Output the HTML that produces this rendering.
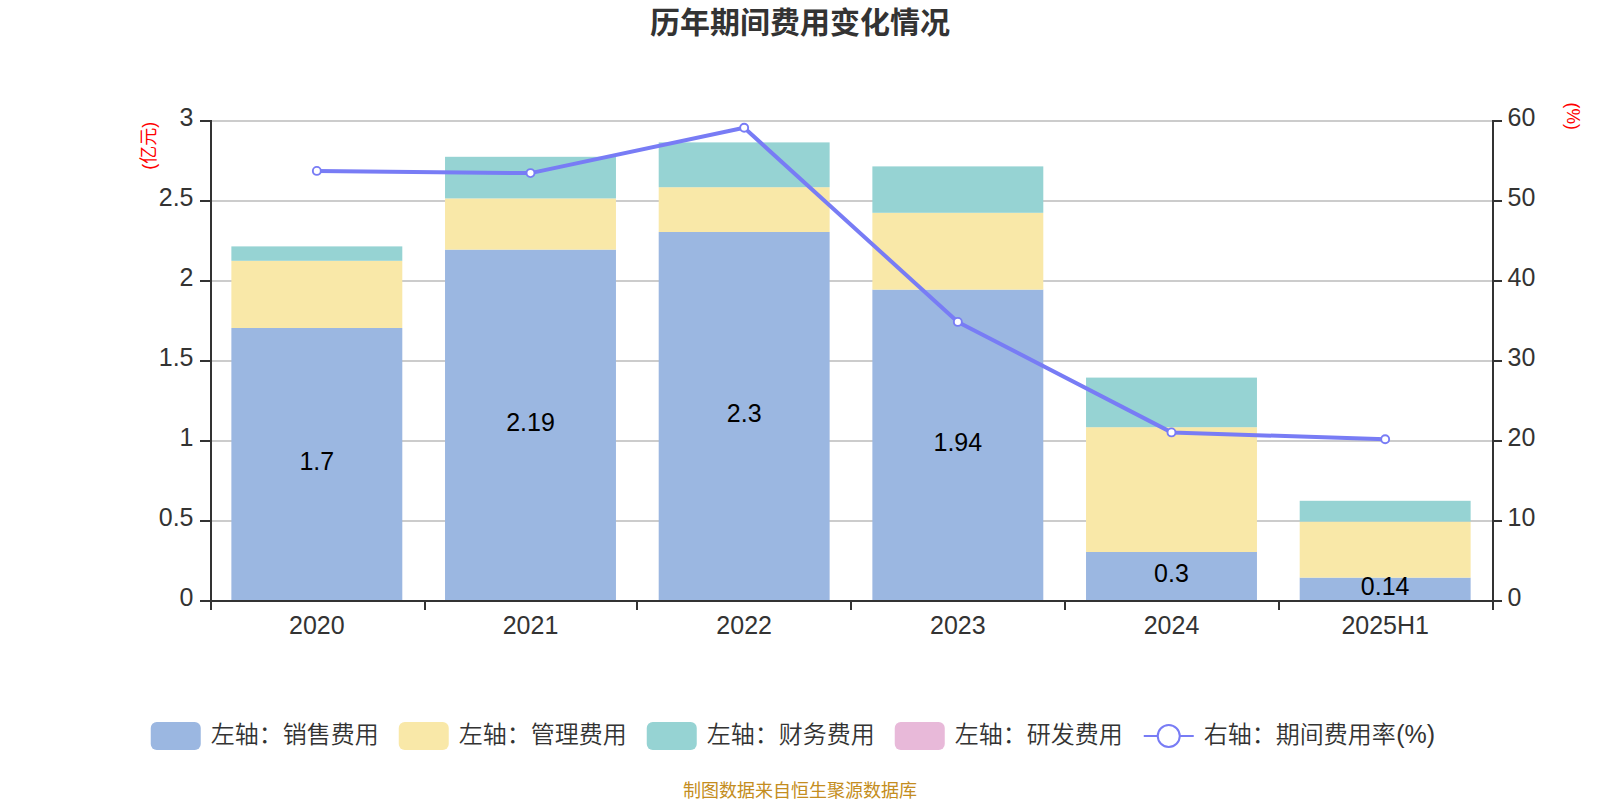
<!DOCTYPE html>
<html lang="zh-CN"><head><meta charset="utf-8"><title>历年期间费用变化情况</title>
<style>html,body{margin:0;padding:0;background:#fff;}body{width:1600px;height:800px;overflow:hidden;}svg{display:block;}text{font-family:"Liberation Sans", "Noto Sans CJK SC", sans-serif;}</style></head><body>
<svg width="1600" height="800" viewBox="0 0 1600 800">
<rect width="1600" height="800" fill="#fff"/>
<text x="800" y="33" text-anchor="middle" font-size="30" font-weight="bold" fill="#333">历年期间费用变化情况</text>
<line x1="210" y1="521" x2="1493" y2="521" stroke="#ccc" stroke-width="2"/>
<line x1="210" y1="441" x2="1493" y2="441" stroke="#ccc" stroke-width="2"/>
<line x1="210" y1="361" x2="1493" y2="361" stroke="#ccc" stroke-width="2"/>
<line x1="210" y1="281" x2="1493" y2="281" stroke="#ccc" stroke-width="2"/>
<line x1="210" y1="201" x2="1493" y2="201" stroke="#ccc" stroke-width="2"/>
<line x1="210" y1="121" x2="1493" y2="121" stroke="#ccc" stroke-width="2"/>
<rect x="231.37" y="328.00" width="170.93" height="272.00" fill="#9bb7e1"/>
<rect x="231.37" y="260.80" width="170.93" height="67.20" fill="#f9e8a8"/>
<rect x="231.37" y="246.40" width="170.93" height="14.40" fill="#96d3d3"/>
<rect x="445.03" y="249.60" width="170.93" height="350.40" fill="#9bb7e1"/>
<rect x="445.03" y="198.40" width="170.93" height="51.20" fill="#f9e8a8"/>
<rect x="445.03" y="156.80" width="170.93" height="41.60" fill="#96d3d3"/>
<rect x="658.70" y="232.00" width="170.93" height="368.00" fill="#9bb7e1"/>
<rect x="658.70" y="187.20" width="170.93" height="44.80" fill="#f9e8a8"/>
<rect x="658.70" y="142.40" width="170.93" height="44.80" fill="#96d3d3"/>
<rect x="872.37" y="289.60" width="170.93" height="310.40" fill="#9bb7e1"/>
<rect x="872.37" y="212.80" width="170.93" height="76.80" fill="#f9e8a8"/>
<rect x="872.37" y="166.40" width="170.93" height="46.40" fill="#96d3d3"/>
<rect x="1086.03" y="552.00" width="170.93" height="48.00" fill="#9bb7e1"/>
<rect x="1086.03" y="427.20" width="170.93" height="124.80" fill="#f9e8a8"/>
<rect x="1086.03" y="377.60" width="170.93" height="49.60" fill="#96d3d3"/>
<rect x="1299.70" y="577.60" width="170.93" height="22.40" fill="#9bb7e1"/>
<rect x="1299.70" y="521.60" width="170.93" height="56.00" fill="#f9e8a8"/>
<rect x="1299.70" y="500.80" width="170.93" height="20.80" fill="#96d3d3"/>
<g stroke="#333" stroke-width="2" fill="none">
<line x1="211" y1="120" x2="211" y2="602"/>
<line x1="1493" y1="120" x2="1493" y2="602"/>
<line x1="210" y1="601" x2="1494" y2="601"/>
<line x1="200" y1="601" x2="210" y2="601"/>
<line x1="1494" y1="601" x2="1502" y2="601"/>
<line x1="200" y1="521" x2="210" y2="521"/>
<line x1="1494" y1="521" x2="1502" y2="521"/>
<line x1="200" y1="441" x2="210" y2="441"/>
<line x1="1494" y1="441" x2="1502" y2="441"/>
<line x1="200" y1="361" x2="210" y2="361"/>
<line x1="1494" y1="361" x2="1502" y2="361"/>
<line x1="200" y1="281" x2="210" y2="281"/>
<line x1="1494" y1="281" x2="1502" y2="281"/>
<line x1="200" y1="201" x2="210" y2="201"/>
<line x1="1494" y1="201" x2="1502" y2="201"/>
<line x1="200" y1="121" x2="210" y2="121"/>
<line x1="1494" y1="121" x2="1502" y2="121"/>
<line x1="211" y1="600" x2="211" y2="610"/>
<line x1="425" y1="600" x2="425" y2="610"/>
<line x1="637" y1="600" x2="637" y2="610"/>
<line x1="851" y1="600" x2="851" y2="610"/>
<line x1="1065" y1="600" x2="1065" y2="610"/>
<line x1="1279" y1="600" x2="1279" y2="610"/>
<line x1="1493" y1="600" x2="1493" y2="610"/>
</g>
<text x="193.5" y="606" text-anchor="end" font-size="25" fill="#333">0</text>
<text x="1507.5" y="606" text-anchor="start" font-size="25" fill="#333">0</text>
<text x="193.5" y="526" text-anchor="end" font-size="25" fill="#333">0.5</text>
<text x="1507.5" y="526" text-anchor="start" font-size="25" fill="#333">10</text>
<text x="193.5" y="446" text-anchor="end" font-size="25" fill="#333">1</text>
<text x="1507.5" y="446" text-anchor="start" font-size="25" fill="#333">20</text>
<text x="193.5" y="366" text-anchor="end" font-size="25" fill="#333">1.5</text>
<text x="1507.5" y="366" text-anchor="start" font-size="25" fill="#333">30</text>
<text x="193.5" y="286" text-anchor="end" font-size="25" fill="#333">2</text>
<text x="1507.5" y="286" text-anchor="start" font-size="25" fill="#333">40</text>
<text x="193.5" y="206" text-anchor="end" font-size="25" fill="#333">2.5</text>
<text x="1507.5" y="206" text-anchor="start" font-size="25" fill="#333">50</text>
<text x="193.5" y="126" text-anchor="end" font-size="25" fill="#333">3</text>
<text x="1507.5" y="126" text-anchor="start" font-size="25" fill="#333">60</text>
<text x="316.83" y="634" text-anchor="middle" font-size="25" fill="#333">2020</text>
<text x="530.50" y="634" text-anchor="middle" font-size="25" fill="#333">2021</text>
<text x="744.17" y="634" text-anchor="middle" font-size="25" fill="#333">2022</text>
<text x="957.83" y="634" text-anchor="middle" font-size="25" fill="#333">2023</text>
<text x="1171.50" y="634" text-anchor="middle" font-size="25" fill="#333">2024</text>
<text x="1385.17" y="634" text-anchor="middle" font-size="25" fill="#333">2025H1</text>
<polyline points="316.83,170.88 530.50,173.12 744.17,127.76 957.83,321.92 1171.50,432.40 1385.17,439.28" fill="none" stroke="#787cf5" stroke-width="4" stroke-linejoin="bevel"/>
<circle cx="316.83" cy="170.88" r="4" fill="#fff" stroke="#787cf5" stroke-width="1.9"/>
<circle cx="530.50" cy="173.12" r="4" fill="#fff" stroke="#787cf5" stroke-width="1.9"/>
<circle cx="744.17" cy="127.76" r="4" fill="#fff" stroke="#787cf5" stroke-width="1.9"/>
<circle cx="957.83" cy="321.92" r="4" fill="#fff" stroke="#787cf5" stroke-width="1.9"/>
<circle cx="1171.50" cy="432.40" r="4" fill="#fff" stroke="#787cf5" stroke-width="1.9"/>
<circle cx="1385.17" cy="439.28" r="4" fill="#fff" stroke="#787cf5" stroke-width="1.9"/>
<text x="316.83" y="470.20" text-anchor="middle" font-size="25" fill="#000">1.7</text>
<text x="530.50" y="431.00" text-anchor="middle" font-size="25" fill="#000">2.19</text>
<text x="744.17" y="422.20" text-anchor="middle" font-size="25" fill="#000">2.3</text>
<text x="957.83" y="451.00" text-anchor="middle" font-size="25" fill="#000">1.94</text>
<text x="1171.50" y="582.20" text-anchor="middle" font-size="25" fill="#000">0.3</text>
<text x="1385.17" y="595.00" text-anchor="middle" font-size="25" fill="#000">0.14</text>
<text transform="translate(155,145.8) rotate(-90)" text-anchor="middle" font-size="18" font-weight="400" fill="#f00">(亿元)</text>
<text transform="translate(1566.5,102.6) rotate(90)" font-size="19" textLength="27.2" lengthAdjust="spacingAndGlyphs" fill="#f00">(%)</text>
<rect x="150.75" y="722" width="50" height="28" rx="6" ry="6" fill="#9bb7e1"/>
<text x="210.75" y="743" font-size="24" font-weight="350" fill="#333">左轴：销售费用</text>
<rect x="398.75" y="722" width="50" height="28" rx="6" ry="6" fill="#f9e8a8"/>
<text x="458.75" y="743" font-size="24" font-weight="350" fill="#333">左轴：管理费用</text>
<rect x="646.75" y="722" width="50" height="28" rx="6" ry="6" fill="#96d3d3"/>
<text x="706.75" y="743" font-size="24" font-weight="350" fill="#333">左轴：财务费用</text>
<rect x="894.75" y="722" width="50" height="28" rx="6" ry="6" fill="#e8b9d9"/>
<text x="954.75" y="743" font-size="24" font-weight="350" fill="#333">左轴：研发费用</text>
<line x1="1143.75" y1="736" x2="1193.75" y2="736" stroke="#787cf5" stroke-width="2"/>
<circle cx="1168.75" cy="736" r="11" fill="#fff" stroke="#787cf5" stroke-width="2"/>
<text x="1203.75" y="743" font-size="24" font-weight="350" fill="#333">右轴：期间费用率<tspan font-size="25" dx="0.5">(%)</tspan></text>
<text x="800" y="796.7" text-anchor="middle" font-size="18" font-weight="400" fill="#c48d20">制图数据来自恒生聚源数据库</text>
</svg></body></html>
